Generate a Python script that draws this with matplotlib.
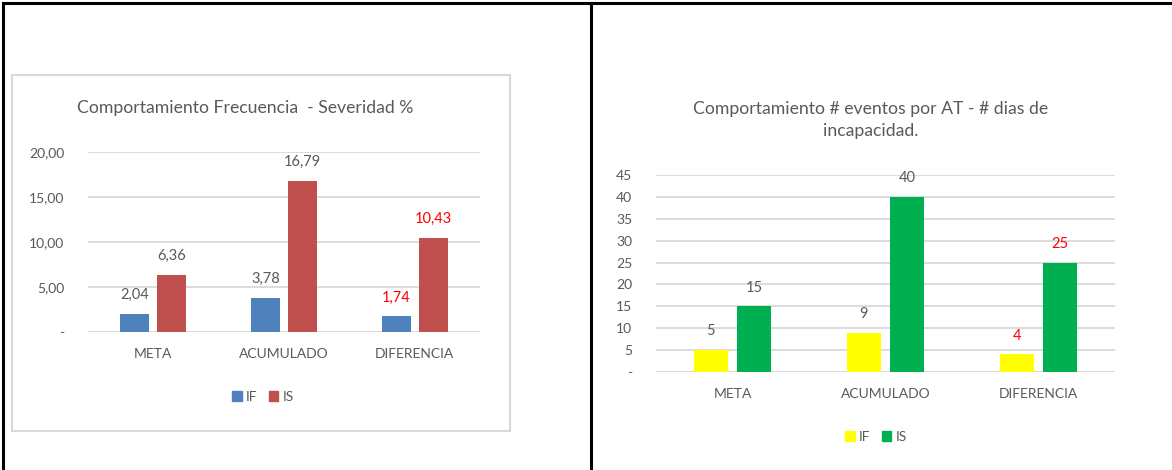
import matplotlib
matplotlib.use("Agg")
import matplotlib.pyplot as plt
from matplotlib.lines import Line2D
from matplotlib.patches import Rectangle, Patch
import numpy as np

plt.rcParams['font.family'] = ['Lato', 'DejaVu Sans']

# data
categorias = ['META', 'ACUMULADO', 'DIFERENCIA']
frec_if = [2.04, 3.78, 1.74]
frec_is = [6.36, 16.79, 10.43]
eventos_if = [5, 9, 4]
eventos_is = [15, 40, 25]

W, H = 1172, 470
txt = '#595959'
grid_c = '#D9D9D9'

fig = plt.figure(figsize=(W / 100, H / 100), dpi=100)
fig.patch.set_facecolor('white')


def px_axes(x0, y_top, x1, y_bot):
    return fig.add_axes([x0 / W, 1 - y_bot / H, (x1 - x0) / W, (y_bot - y_top) / H])


def style(ax, ymax, step, fmt):
    ax.set_ylim(0, ymax)
    ax.set_xlim(-0.5, 2.5)
    ticks = np.arange(0, ymax + step / 2, step)
    ax.set_yticks(ticks)
    ax.set_yticklabels(['-'] + [fmt(t) for t in ticks[1:]])
    ax.set_xticks(range(len(categorias)))
    ax.set_xticklabels(categorias)
    ax.tick_params(length=0, colors=txt, labelsize=10)
    ax.tick_params(axis='y', pad=17)
    ax.tick_params(axis='x', pad=11.5)
    for s in ax.spines.values():
        s.set_visible(False)
    ax.grid(axis='y', color=grid_c, linewidth=1.3)
    ax.set_axisbelow(True)


def labels(ax, xs, vals, texts, colors):
    for x, v, t, c in zip(xs, vals, texts, colors):
        ax.annotate(t, (x, v), xytext=(0, 8.5), textcoords='offset points',
                    ha='center', va='bottom', fontsize=10.5, color=c)


x = np.arange(len(categorias))

# left chart: frecuencia / severidad
ax1 = px_axes(88, 152, 480, 332)
style(ax1, 20, 5, lambda t: f'{t:.2f}'.replace('.', ','))
off, bw = 0.1415, 0.222
ax1.bar(x - off, frec_if, bw, color='#4F81BD')
ax1.bar(x + off, frec_is, bw, color='#C0504D')
lab_col = [txt, txt, '#FF0000']
labels(ax1, x - off, frec_if, [f'{v:.2f}'.replace('.', ',') for v in frec_if], lab_col)
labels(ax1, x + off, frec_is, [f'{v:.2f}'.replace('.', ',') for v in frec_is], lab_col)
fig.text(245 / W, 1 - 108 / H, 'Comportamiento Frecuencia  - Severidad %',
         ha='center', va='center', fontsize=12.7, color=txt)
fig.legend(handles=[Patch(color='#4F81BD', label='IF'), Patch(color='#C0504D', label='IS')],
           loc='center', bbox_to_anchor=(263 / W, 1 - 397 / H), ncol=2, frameon=False,
           handlelength=0.7, handleheight=0.7, handletextpad=0.3, columnspacing=0.8,
           fontsize=10, labelcolor=txt)

# right chart: eventos / dias de incapacidad
ax2 = px_axes(656, 175, 1115, 372)
style(ax2, 45, 5, lambda t: f'{int(t)}')
off2, bw2 = 0.142, 0.225
ax2.bar(x - off2, eventos_if, bw2, color='#FFFF00')
ax2.bar(x + off2, eventos_is, bw2, color='#00B050')
labels(ax2, x - off2, eventos_if, [str(v) for v in eventos_if], lab_col)
labels(ax2, x + off2, eventos_is, [str(v) for v in eventos_is], lab_col)
fig.text(871 / W, 1 - 120 / H, 'Comportamiento # eventos por AT - # dias de\nincapacidad.',
         ha='center', va='center', fontsize=12.7, color=txt, linespacing=1.45)
fig.legend(handles=[Patch(color='#FFFF00', label='IF'), Patch(color='#00B050', label='IS')],
           loc='center', bbox_to_anchor=(876 / W, 1 - 437 / H), ncol=2, frameon=False,
           handlelength=0.7, handleheight=0.7, handletextpad=0.3, columnspacing=0.8,
           fontsize=10, labelcolor=txt)

# table borders and the gray chart box
fig.add_artist(Line2D([3 / W, 1], [1 - 3 / H, 1 - 3 / H], color='black', linewidth=2.2))
fig.add_artist(Line2D([3 / W, 3 / W], [0, 1 - 3 / H], color='black', linewidth=2.2))
fig.add_artist(Line2D([591 / W, 591 / W], [0, 1 - 3 / H], color='black', linewidth=2.2))
fig.add_artist(Rectangle((12 / W, 1 - 431 / H), (510 - 12) / W, (431 - 75) / H,
                         transform=fig.transFigure, fill=False, edgecolor=grid_c, linewidth=1.5))

fig.savefig('out.png', dpi=100)
